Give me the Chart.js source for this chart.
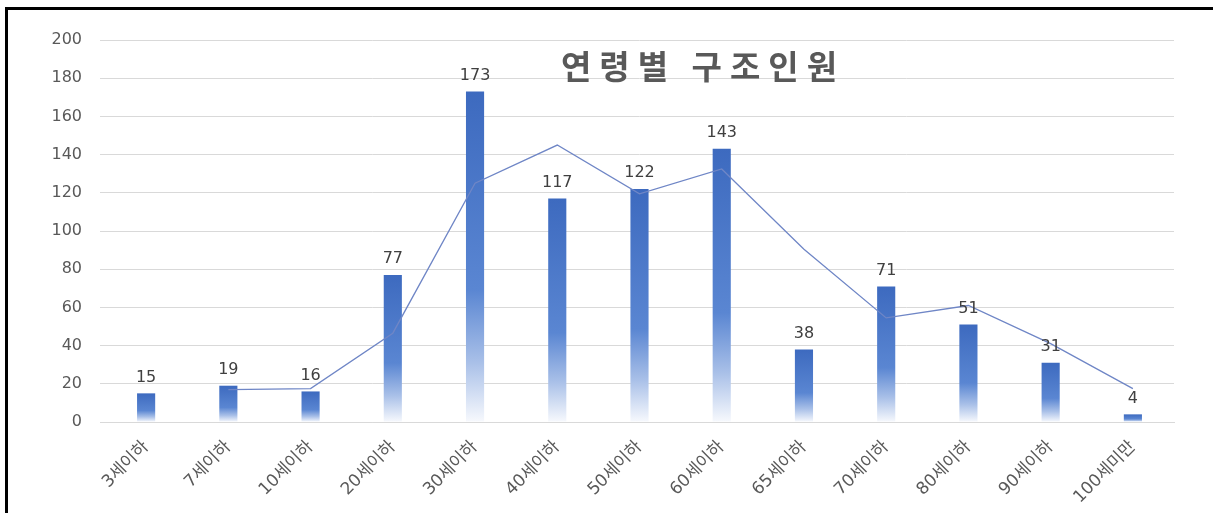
<!DOCTYPE html>
<html>
<head>
<meta charset="utf-8">
<script src="https://cdn.jsdelivr.net/npm/chart.js@4.4.1/dist/chart.umd.min.js"></script>
<style>
  html, body { margin: 0; padding: 0; background: #fff; }
  #wrap { position: relative; width: 1213px; height: 513px; overflow: hidden; }
  #frame { position: absolute; left: 5px; top: 7px; right: -10px; bottom: -10px;
           border-left: 3px solid #000; border-top: 3px solid #000; pointer-events: none; }
</style>
</head>
<body>
<div id="wrap">
  <canvas id="myChart" width="1213" height="513"></canvas>
  <div id="frame"></div>
</div>
<script>
// 연령별 구조인원 data
const ageLabels = ['3세이하','7세이하','10세이하','20세이하','30세이하','40세이하','50세이하','60세이하','65세이하','70세이하','80세이하','90세이하','100세미만'];
const rescued = [15, 19, 16, 77, 173, 117, 122, 143, 38, 71, 51, 31, 4];
// trend line
const trendLine = [null, 17, 17.5, 46.5, 125, 145, 119.5, 132.5, 90.5, 54.5, 61, 41, 17.5];
const yMax = 200;
const yStep = 20;
const chartTitle = '연령별 구조인원';

const fontFam = '"Noto Sans CJK KR", "Noto Sans", sans-serif';
const numFam = '"DejaVu Sans", "Noto Sans CJK KR", sans-serif';

const barFill = function (c) {
  const chart = c.chart;
  const ys = chart.scales.y;
  if (!ys || c.type !== 'data' || c.raw == null) return '#4472c4';
  const top = ys.getPixelForValue(c.raw);
  const base = ys.getPixelForValue(0);
  if (!isFinite(top) || !isFinite(base) || base - top < 1) return '#4472c4';
  const g = chart.ctx.createLinearGradient(0, top, 0, base);
  g.addColorStop(0, '#3d6abf');
  g.addColorStop(0.6, '#5a86d2');
  g.addColorStop(0.82, '#a9c0e8');
  g.addColorStop(1, '#f7f9fd');
  return g;
};

const valueLabels = {
  id: 'valueLabels',
  afterDatasetsDraw(chart) {
    const ctx = chart.ctx;
    const meta = chart.getDatasetMeta(1);
    ctx.save();
    ctx.font = '16px ' + numFam;
    ctx.fillStyle = '#404040';
    ctx.textAlign = 'center';
    ctx.textBaseline = 'bottom';
    meta.data.forEach((el, i) => {
      ctx.fillText(String(rescued[i]), el.x, el.y - 8);
    });
    ctx.restore();
  }
};

const overTitle = {
  id: 'overTitle',
  afterDraw(chart) {
    const ctx = chart.ctx;
    ctx.save();
    ctx.font = 'bold 33px ' + fontFam;
    ctx.fillStyle = '#595959';
    ctx.textAlign = 'center';
    ctx.textBaseline = 'middle';
    if ('letterSpacing' in ctx) ctx.letterSpacing = '8px';
    ctx.fillText(chartTitle, 703, 66);
    ctx.restore();
  }
};

new Chart(document.getElementById('myChart'), {
  type: 'bar',
  data: {
    labels: ageLabels,
    datasets: [
      {
        type: 'line',
        label: '추세',
        data: trendLine,
        borderColor: '#6f86c6',
        borderWidth: 1.3,
        pointRadius: 0,
        tension: 0,
        fill: false,
        order: 0
      },
      {
        label: '구조인원',
        data: rescued,
        backgroundColor: barFill,
        barPercentage: 0.9,
        categoryPercentage: 0.245,
        order: 1
      }
    ]
  },
  options: {
    responsive: false,
    animation: false,
    layout: { padding: { left: 0, right: 39, top: 40, bottom: 0 } },
    plugins: {
      legend: { display: false },
      tooltip: { enabled: false },
      title: { display: false }
    },
    scales: {
      x: {
        grid: { display: false, drawTicks: false },
        border: { color: '#d9d9d9' },
        ticks: {
          color: '#595959',
          font: { family: numFam, size: 17 },
          minRotation: 45,
          maxRotation: 45,
          padding: 15
        },
        afterFit(scale) { scale.height = 91; }
      },
      y: {
        min: 0,
        max: yMax,
        grid: { color: '#d9d9d9', tickLength: 5, tickColor: '#d9d9d9' },
        border: { display: false },
        ticks: {
          stepSize: yStep,
          color: '#595959',
          font: { family: numFam, size: 16 },
          padding: 18
        },
        afterFit(scale) { scale.width = 105; }
      }
    }
  },
  plugins: [valueLabels, overTitle]
});
</script>
</body>
</html>
